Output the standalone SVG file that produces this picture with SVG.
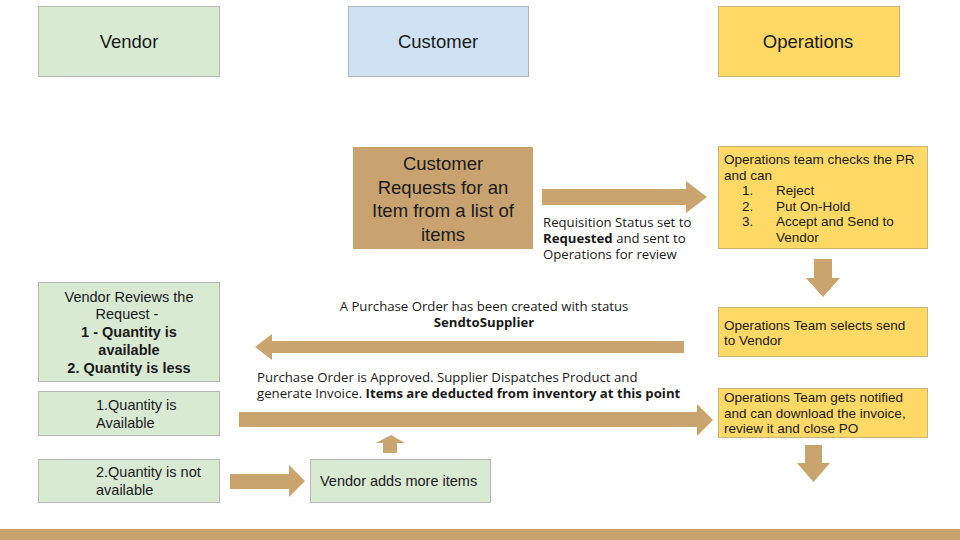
<svg xmlns="http://www.w3.org/2000/svg" width="960" height="540" viewBox="0 0 960 540">
<style>
.g{fill:#d9ead3;stroke:#b7b7b7;stroke-width:1}
.b{fill:#cfe2f3;stroke:#b7b7b7;stroke-width:1}
.y{fill:#ffd966;stroke:#c9b37a;stroke-width:1}
.t{fill:#c9a36f}
.a{fill:#c9a46f}
.h{font-family:"Liberation Sans",Arial,sans-serif;font-size:18.5px;fill:#1a1a1a;text-anchor:middle}
.s{font-family:"Liberation Sans",Arial,sans-serif;font-size:13.5px;fill:#1a1a1a}
.v{font-family:"Liberation Sans",Arial,sans-serif;font-size:14.5px;fill:#1a1a1a;text-anchor:middle}
.o{font-family:"Open Sans",sans-serif;font-size:13.2px;fill:#1a1a1a}
.bd{font-weight:bold}
</style>
<g id="vendor-header"><rect class="g" x="38.5" y="6.5" width="181" height="70"/><text class="h" x="129" y="48">Vendor</text></g>
<g id="customer-header"><rect class="b" x="348.5" y="6.5" width="180" height="70"/><text class="h" x="438" y="48">Customer</text></g>
<g id="operations-header"><rect class="y" x="718.5" y="6.5" width="181" height="70"/><text class="h" x="808" y="48">Operations</text></g>

<g id="customer-request"><rect class="t" x="353" y="147" width="180" height="102"/>
<text class="h" x="443"><tspan x="443" y="170">Customer</tspan><tspan x="443" y="193.5">Requests for an</tspan><tspan x="443" y="217">Item from a list of</tspan><tspan x="443" y="240.5">items</tspan></text></g>

<g id="ops-check"><rect class="y" x="718.5" y="146.5" width="209" height="102"/>
<text class="s"><tspan x="724" y="164">Operations team checks the PR</tspan><tspan x="724" y="179.5">and can</tspan>
<tspan x="742" y="195">1.</tspan><tspan x="776" y="195">Reject</tspan>
<tspan x="742" y="210.5">2.</tspan><tspan x="776" y="210.5">Put On-Hold</tspan>
<tspan x="742" y="226">3.</tspan><tspan x="776" y="226">Accept and Send to</tspan>
<tspan x="776" y="241.5">Vendor</tspan></text></g>

<g id="ops-select"><rect class="y" x="718.5" y="307.5" width="209" height="49"/>
<text class="s"><tspan x="724" y="329.5">Operations Team selects send</tspan><tspan x="724" y="345">to Vendor</tspan></text></g>

<g id="ops-notified"><rect class="y" x="718.5" y="388.5" width="209" height="49"/>
<text class="s"><tspan x="724" y="402">Operations Team gets notified</tspan><tspan x="724" y="417.5">and can download the invoice,</tspan><tspan x="724" y="433">review it and close PO</tspan></text></g>

<g id="vendor-review"><rect class="g" x="38.5" y="282.5" width="181" height="99"/>
<text class="v"><tspan x="129" y="302">Vendor Reviews the</tspan><tspan x="129" y="319">Request -</tspan>
<tspan class="bd" x="129" y="336.5">1 - Quantity is</tspan><tspan class="bd" x="129" y="354.5">available</tspan><tspan class="bd" x="129" y="373">2. Quantity is less</tspan></text></g>

<g id="qty-available"><rect class="g" x="38.5" y="391.5" width="181" height="44"/>
<text class="v" style="text-anchor:start"><tspan x="96" y="410">1.Quantity is</tspan><tspan x="96" y="428">Available</tspan></text></g>

<g id="qty-not-available"><rect class="g" x="38.5" y="459.5" width="181" height="43"/>
<text class="v" style="text-anchor:start"><tspan x="96" y="477">2.Quantity is not</tspan><tspan x="96" y="495">available</tspan></text></g>

<g id="vendor-adds"><rect class="g" x="310.5" y="459.5" width="180" height="43"/>
<text class="v" style="text-anchor:start" x="320" y="486">Vendor adds more items</text></g>

<g id="connectors">
<polygon class="a" points="542,189 686,189 686,181 707,197 686,213 686,205 542,205"/>
<polygon class="a" points="814,259 832,259 832,278 840,278 823,297 806,278 814,278"/>
<polygon class="a" points="684,341 272,341 272,334 255,347 272,360 272,353 684,353"/>
<polygon class="a" points="239,412 697,412 697,404 713,420 697,436 697,427 239,427"/>
<polygon class="a" points="383,453 383,443 376,443 391,435 405,443 397,443 397,453"/>
<polygon class="a" points="230,474 289,474 289,465 305,481 289,497 289,489 230,489"/>
<polygon class="a" points="805,445 822,445 822,463 830,463 813.5,482 797,463 805,463"/>
</g>

<g id="labels">
<text class="o"><tspan x="543" y="227">Requisition Status set to</tspan><tspan class="bd" x="543" y="243">Requested</tspan><tspan> and sent to</tspan><tspan x="543" y="258.5">Operations for review</tspan></text>
<text class="o" text-anchor="middle"><tspan x="484" y="311">A Purchase Order has been created with status</tspan><tspan class="bd" x="484" y="327">SendtoSupplier</tspan></text>
<text class="o"><tspan x="257" y="382">Purchase Order is Approved. Supplier Dispatches Product and</tspan><tspan x="257" y="398">generate Invoice. </tspan><tspan class="bd">Items are deducted from inventory at this point</tspan></text>
</g>

<rect class="a" x="0" y="529" width="960" height="11"/>
</svg>
